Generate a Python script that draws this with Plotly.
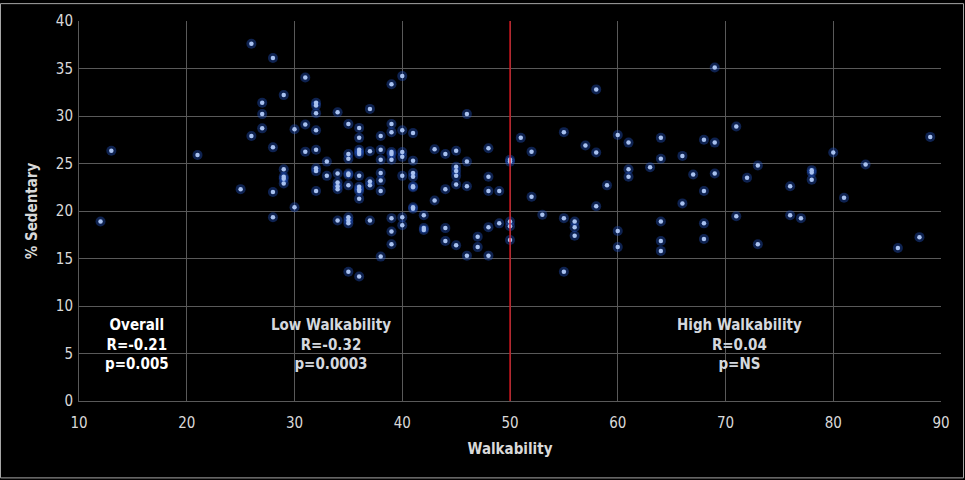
import plotly.graph_objects as go

# walkability score (x) and % sedentary (y)
walk = [
    12, 13, 21, 25, 26, 26,
    27, 27, 27,
    28, 28, 28, 28,
    29, 29, 29, 29, 29,
    30, 30,
    31, 31, 31,
    32, 32, 32, 32, 32, 32, 32, 32,
    33, 33,
    34, 34, 34, 34, 34, 34,
    35, 35, 35, 35, 35, 35, 35, 35, 35, 35,
    36, 36, 36, 36, 36, 36, 36, 36, 36, 36, 36,
    37, 37, 37, 37, 37,
    38, 38, 38, 38, 38, 38, 38,
    39, 39, 39, 39, 39, 39, 39, 39, 39,
    40, 40, 40, 40, 40, 40, 40,
    41, 41, 41, 41, 41, 41, 41, 41,
    42, 42, 42,
    43, 43,
    44, 44, 44, 44,
    45, 45, 45, 45, 45, 45,
    46, 46, 46, 46,
    47, 47,
    48, 48, 48, 48, 48,
    49, 49,
    50, 50, 50, 50, 50,
    51, 52, 52, 53,
    55, 55, 55,
    56, 56, 56,
    57, 58, 58, 58, 59,
    60, 60, 60,
    61, 61, 61, 63,
    64, 64, 64, 64, 64,
    66, 66, 67,
    68, 68, 68, 68,
    69, 69, 69,
    71, 71, 72, 73, 73,
    76, 76, 77, 78, 78, 78,
    80, 81, 83, 86, 88, 89,
]
sedentary = [
    18.9, 26.35, 25.9, 22.3, 37.6, 27.9,
    31.4, 30.2, 28.7,
    36.1, 26.7, 22.0, 19.35,
    32.2, 24.4, 23.6, 23.4, 22.9,
    28.6, 20.4,
    34.05, 29.1, 26.25,
    31.4, 31.1, 30.3, 28.5, 26.45, 24.5, 24.2, 22.1,
    25.2, 23.7,
    30.4, 23.95, 23.0, 22.6, 22.3, 19.0,
    29.15, 26.0, 25.5, 23.95, 23.8, 22.7, 19.35, 19.0, 18.7, 13.6,
    28.75, 27.7, 26.45, 26.2, 26.0, 23.7, 22.55, 22.3, 22.1, 21.3, 13.1,
    30.75, 26.3, 23.1, 22.7, 19.0,
    27.9, 26.45, 25.4, 24.0, 23.2, 22.1, 15.2,
    33.35, 29.15, 28.3, 26.2, 26.0, 25.4, 19.25, 17.85, 16.5,
    34.2, 28.5, 26.2, 25.7, 23.7, 19.35, 18.5,
    28.2, 25.3, 24.0, 23.6, 22.6, 22.5, 20.4, 20.25,
    19.55, 18.2, 18.0,
    26.5, 21.1,
    26.0, 22.3, 18.2, 16.85,
    26.35, 24.65, 24.2, 23.7, 22.8, 16.4,
    30.2, 25.2, 22.6, 15.3,
    17.3, 16.2,
    26.6, 23.6, 22.1, 18.3, 15.3,
    22.1, 18.7,
    25.4, 25.2, 18.9, 18.4, 16.95,
    27.7, 26.25, 21.5, 19.6,
    28.3, 19.25, 13.6,
    18.9, 18.3, 17.4,
    26.9, 32.8, 26.15, 20.5, 22.7,
    28.0, 17.9, 16.2,
    27.2, 24.4, 23.6, 24.6,
    27.7, 25.5, 18.9, 16.85, 15.8,
    25.8, 20.8, 23.85,
    27.5, 22.1, 18.7, 17.05,
    35.1, 27.2, 23.95,
    28.9, 19.45, 23.5, 24.8, 16.5,
    22.6, 19.55, 19.25, 24.3, 24.05, 23.3,
    26.15, 21.4, 24.9, 16.1, 17.25, 27.8,
]

cutoff = 50
x_ticks = [10, 20, 30, 40, 50, 60, 70, 80, 90]
y_ticks = [0, 5, 10, 15, 20, 25, 30, 35, 40]

groups = ["Overall", "Low Walkability", "High Walkability"]
group_r = ["R=-0.21", "R=-0.32", "R=0.04"]
group_p = ["p=0.005", "p=0.0003", "p=NS"]
label_x = [15.4, 33.4, 71.3]
label_y = [5.9, 5.9, 6.0]
label_color = ["#ffffff", "#d4d8de", "#d4d8de"]

FONT = "DejaVu Sans Condensed, Lato, sans-serif"
TXT = "#d9d9d9"

fig = go.Figure()

# soft glow behind each dot
fig.add_trace(go.Scatter(
    x=walk, y=sedentary, mode="markers", hoverinfo="skip",
    marker=dict(size=10, color="rgba(35,85,200,0.40)", line=dict(width=0)),
    showlegend=False,
))
fig.add_trace(go.Scatter(
    x=walk, y=sedentary, mode="markers",
    marker=dict(size=4.5, color="#a9c2f0", line=dict(width=0)),
    showlegend=False,
))

fig.add_shape(type="line", x0=cutoff, x1=cutoff, y0=0, y1=40,
              line=dict(color="#e0141e", width=1.3))

for i, name in enumerate(groups):
    txt = f"<b>{name}<br>{group_r[i]}<br>{group_p[i]}</b>"
    fig.add_annotation(x=label_x[i], y=label_y[i], text=txt, showarrow=False,
                       align="center", font=dict(family=FONT, size=15, color=label_color[i]))

W, H = 965, 480
ml, mr, mt, mb = 79, 24, 18, 79
pw, ph = W - ml - mr, H - mt - mb
# thin grey frame around the whole picture
fig.add_shape(type="rect", xref="paper", yref="paper",
              x0=-(ml - 0.5) / pw, x1=1 + (mr - 1.5) / pw,
              y0=-(mb - 1.5) / ph, y1=1 + (mt - 0.5) / ph,
              line=dict(color="#a6a6a6", width=1))

fig.update_layout(
    width=W, height=H,
    margin=dict(l=ml, r=mr, t=mt, b=mb),
    paper_bgcolor="black", plot_bgcolor="black",
    font=dict(family=FONT, color=TXT, size=15),
    xaxis=dict(
        range=[10, 90], tickvals=x_ticks, showgrid=True, gridcolor="#595959",
        gridwidth=1, zeroline=False, showline=True, linecolor="#595959",
        ticks="", tickfont=dict(size=15, color=TXT), ticklabelstandoff=8,
        title=dict(text="<b>Walkability</b>", font=dict(size=15, color=TXT), standoff=12),
    ),
    yaxis=dict(
        range=[0, 40], tickvals=y_ticks, showgrid=True, gridcolor="#595959",
        gridwidth=1, zeroline=False, showline=True, linecolor="#595959",
        ticks="", tickfont=dict(size=15, color=TXT), ticklabelstandoff=2,
        title=dict(text="<b>% Sedentary</b>", font=dict(size=15, color=TXT), standoff=14),
    ),
)

fig.write_html("out.html", config={"displayModeBar": False},
               post_script="document.body.style.margin='0px';")
